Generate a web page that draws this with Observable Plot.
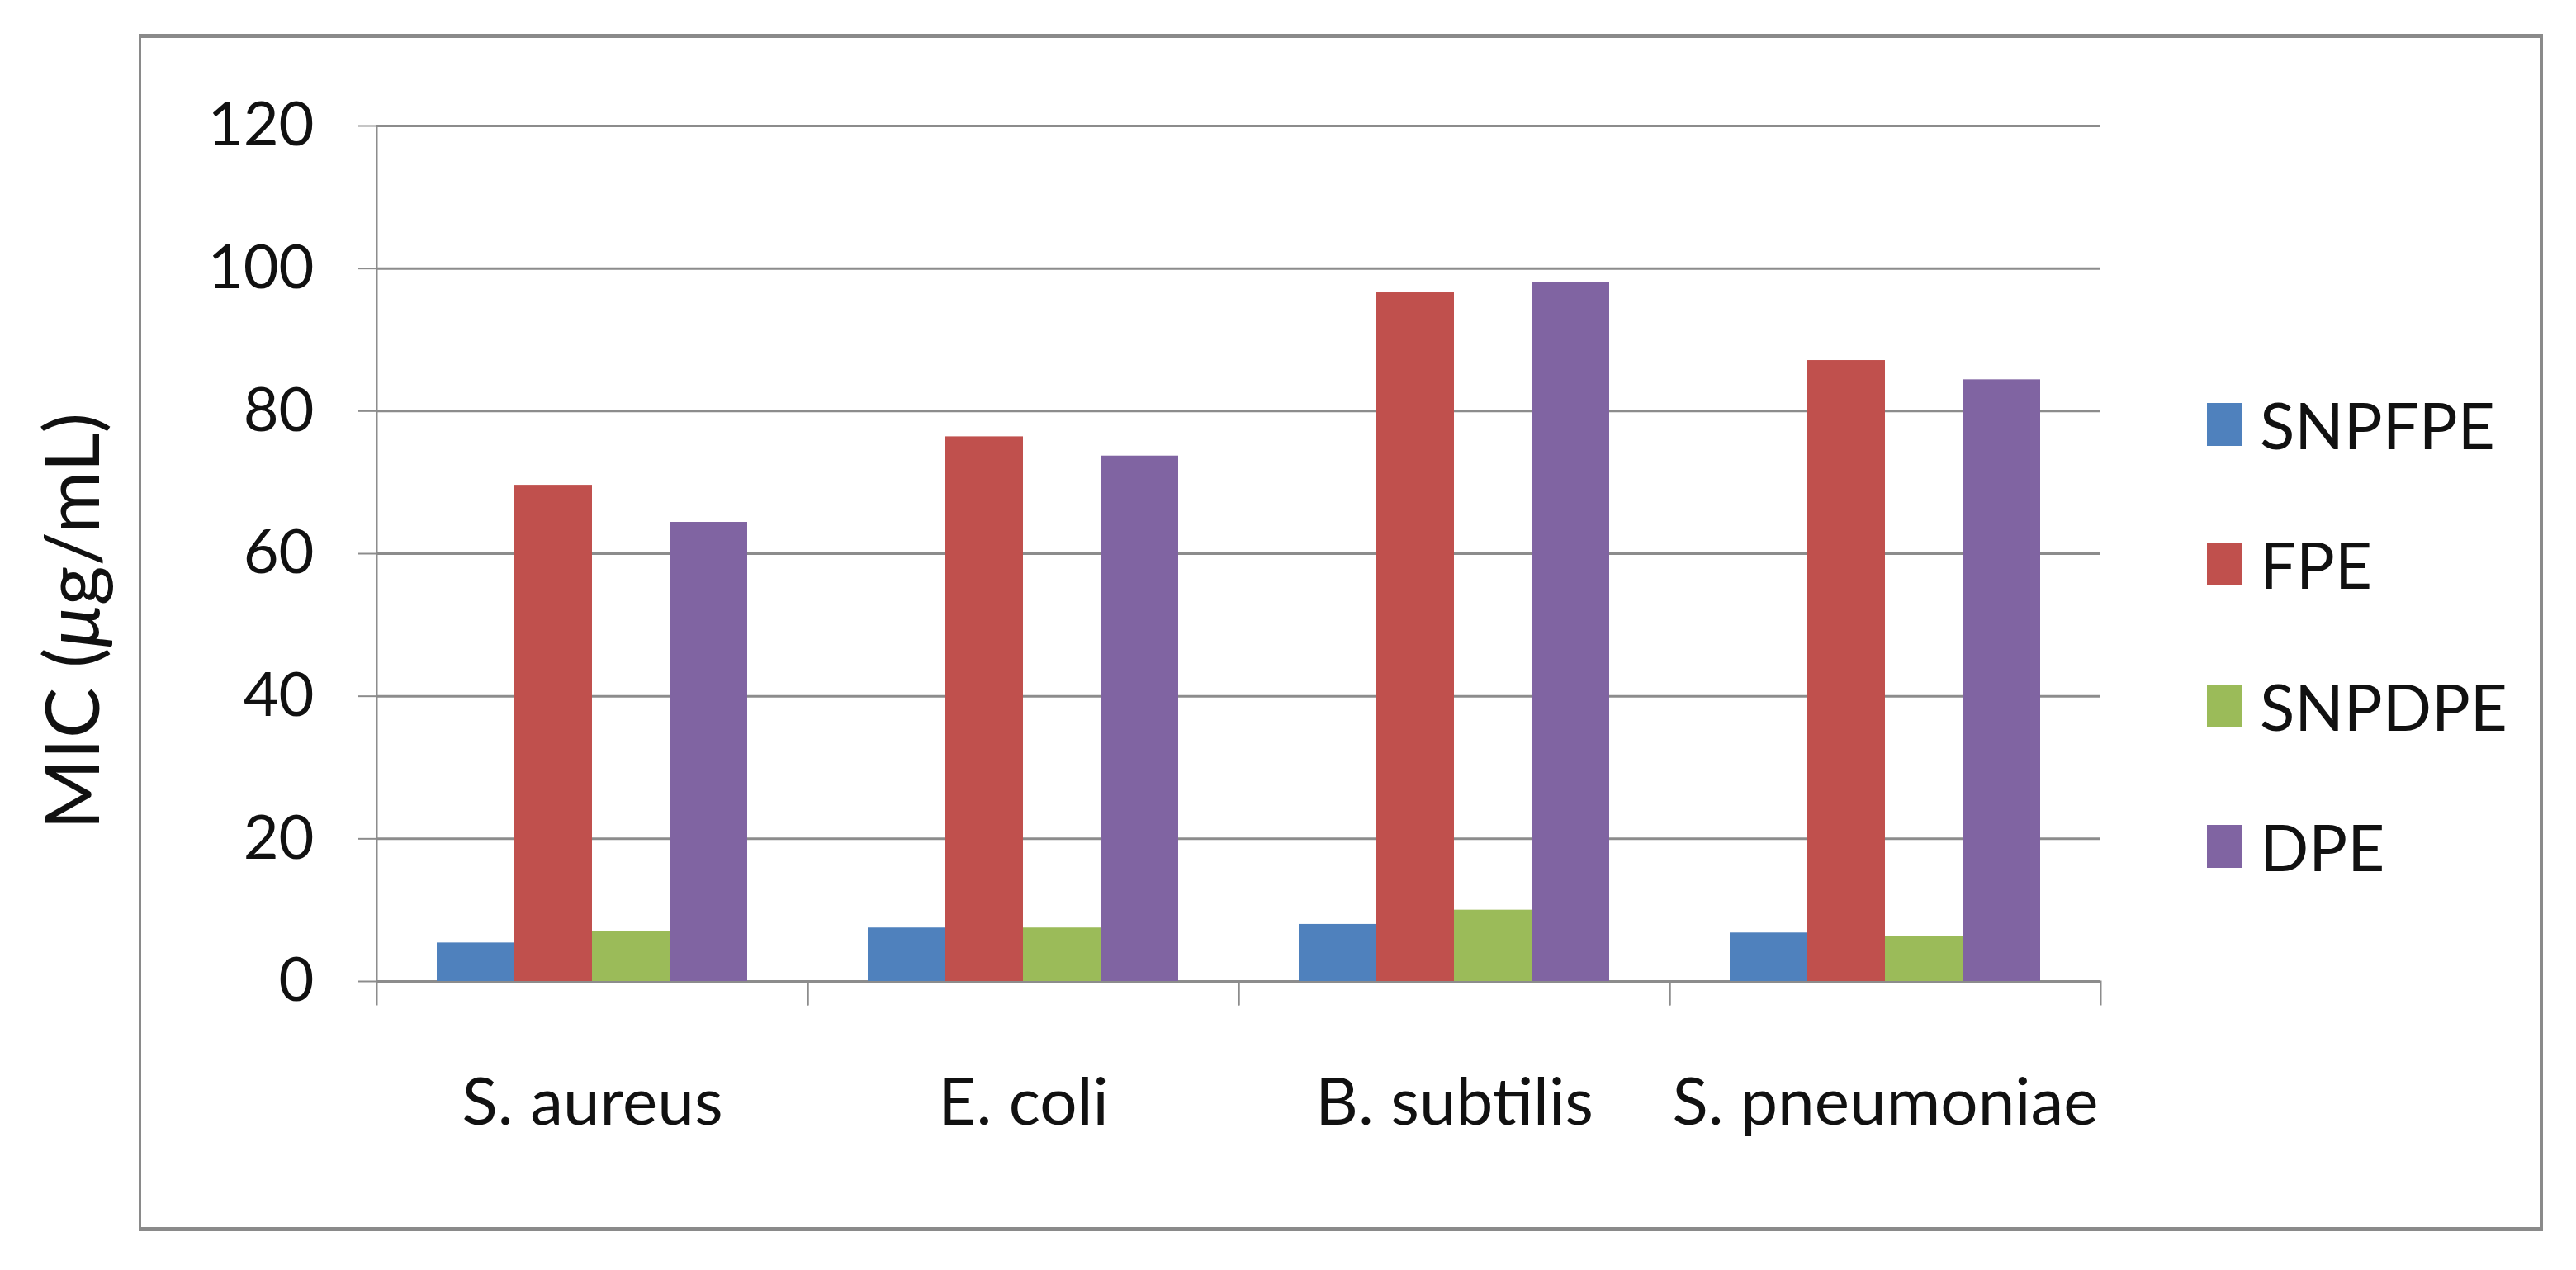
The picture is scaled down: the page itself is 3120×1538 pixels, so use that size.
<!DOCTYPE html>
<html>
<head>
<meta charset="utf-8">
<script src="https://cdn.jsdelivr.net/npm/d3@7"></script>
<script src="https://cdn.jsdelivr.net/npm/@observablehq/plot@0.6"></script>
<style>
  html, body { margin: 0; padding: 0; background: #fff; overflow: hidden; }
  #wrap { position: relative; width: 3120px; height: 1538px; }
  #chart { position: absolute; left: 0; top: 0; }
  #frame { position: absolute; left: 168px; top: 41px; width: 2906px; height: 1440px;
           border: 3px solid #8a8a8a; border-top-width: 5px; border-bottom-width: 5px; pointer-events: none; }
  #legend { position: absolute; left: 2673px; top: 0; font-family: Lato, sans-serif; font-size: 78px; color: #111; }
  .item { position: absolute; left: 0; display: flex; align-items: center; white-space: nowrap; height: 60px; }
  .sw { width: 43px; height: 52px; margin-right: 21px; flex: none; }
</style>
</head>
<body>
<div id="wrap">
  <div id="chart"></div>
  <div id="frame"></div>
  <div id="legend"></div>
</div>
<script>
// ---- data ----
const categories = ["S. aureus", "E. coli", "B. subtilis", "S. pneumoniae"];
const seriesNames = ["SNPFPE", "FPE", "SNPDPE", "DPE"];
const snpfpe = [5.4, 7.5, 8.0, 6.8];
const fpe    = [69.6, 76.4, 96.6, 87.1];
const snpdpe = [7.0, 7.5, 10.0, 6.3];
const dpe    = [64.4, 73.7, 98.1, 84.4];
const yTicks = [0, 20, 40, 60, 80, 100, 120];
const colors = ["#4F81BD", "#C0504D", "#9BBB59", "#8064A2"];
const yLabel = "MIC (μg/mL)";

const seriesValues = [snpfpe, fpe, snpdpe, dpe];
const table = [];
categories.forEach((c, i) => {
  seriesNames.forEach((s, j) => table.push({category: c, series: s, value: seriesValues[j][i]}));
});

const W = 3120, H = 1538;
const mL = 456, mR = 576, mT = 152, mB = 350;
const plotH = H - mT - mB;
const grey = "#8c8c8c";

const chart = Plot.plot({
  width: W,
  height: H,
  marginLeft: mL,
  marginRight: mR,
  marginTop: mT,
  marginBottom: mB,
  style: {fontFamily: "Lato, sans-serif", background: "transparent", color: "#111", overflow: "visible"},
  fx: {domain: categories, padding: 0, label: null},
  x: {domain: seriesNames, paddingInner: 0, paddingOuter: 0.76, axis: null},
  y: {domain: [0, 120], label: null},
  color: {domain: seriesNames, range: colors},
  marks: [
    Plot.gridY(yTicks, {stroke: grey, strokeOpacity: 1, strokeWidth: 3}),
    Plot.frame({anchor: "left", facetAnchor: "left", stroke: grey, strokeWidth: 2}),
    Plot.frame({anchor: "left", stroke: grey, strokeWidth: 2, insetTop: plotH, insetBottom: -28}),
    Plot.frame({anchor: "right", stroke: grey, strokeWidth: 2, insetTop: plotH, insetBottom: -28}),
    Plot.barY(table, {fx: "category", x: "series", y: "value", fill: "series", insetLeft: 0, insetRight: 0}),
    Plot.axisY(yTicks, {
      anchor: "left", tickSize: 22, tickPadding: 54, fontSize: 74, stroke: grey, strokeWidth: 2,
      label: yLabel, labelAnchor: "center", labelOffset: 402, labelArrow: "none"
    }),
    Plot.axisFx({anchor: "bottom", tickSize: 0, tickPadding: 117, fontSize: 80, label: null})
  ]
});
document.getElementById("chart").appendChild(chart);

// italic mu in the y-axis label; centre the label where the original places it
chart.querySelectorAll("text").forEach(t => {
  if (t.textContent.trim() === yLabel) {
    const target = t.querySelector("tspan") || t;
    target.textContent = "";
    const ns = "http://www.w3.org/2000/svg";
    const a = document.createTextNode("MIC (");
    const mu = document.createElementNS(ns, "tspan");
    mu.setAttribute("font-style", "italic");
    mu.textContent = "μ";
    const b = document.createTextNode("g/mL)");
    target.appendChild(a); target.appendChild(mu); target.appendChild(b);
    t.setAttribute("font-size", "92");
    t.setAttribute("fill", "#111");
    t.setAttribute("dx", "-82");
  }
});

// legend
const legendCenters = [514, 683, 855, 1025];
const legend = document.getElementById("legend");
seriesNames.forEach((s, i) => {
  const it = document.createElement("div");
  it.className = "item";
  it.style.top = (legendCenters[i] - 30) + "px";
  const sw = document.createElement("div");
  sw.className = "sw";
  sw.style.background = colors[i];
  const lab = document.createElement("span");
  lab.textContent = s;
  it.appendChild(sw); it.appendChild(lab);
  legend.appendChild(it);
});
</script>
</body>
</html>
